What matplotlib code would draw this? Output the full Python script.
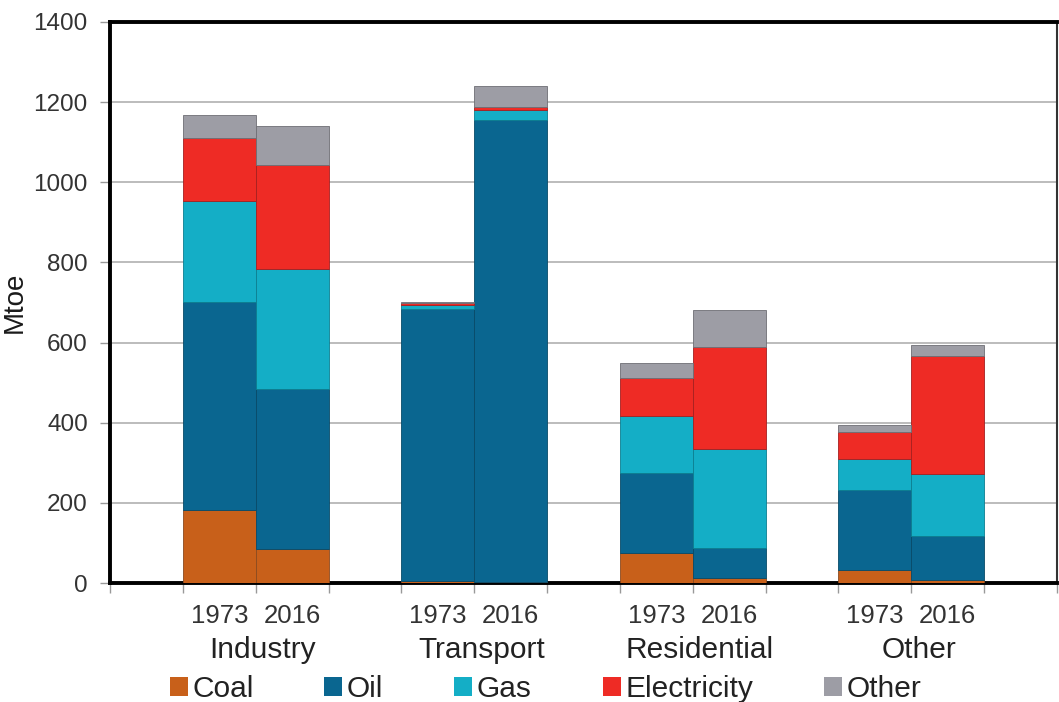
import matplotlib
matplotlib.use("Agg")
import matplotlib.pyplot as plt
import matplotlib.transforms as mtransforms
from matplotlib.patches import Patch
import numpy as np

plt.rcParams['font.family'] = ['Liberation Sans', 'DejaVu Sans']

sectors = ["Industry", "Transport", "Residential", "Other"]
years = ["1973", "2016"]
fuels = ["Coal", "Oil", "Gas", "Electricity", "Other"]
colors = ["#C8601A", "#0A6690", "#14AEC6", "#EE2B25", "#9D9DA5"]
edge_colors = ["#8A4A20", "#084A68", "#0C7E90", "#A42020", "#6E6E74"]

# values per bar: Industry 1973, Industry 2016, Transport 1973, Transport 2016,
# Residential 1973, Residential 2016, Other 1973, Other 2016
coal = [182, 85, 5, 2, 75, 12, 32, 7]
oil = [519, 399, 678, 1153, 200, 75, 200, 110]
gas = [252, 300, 12, 25, 142, 247, 77, 155]
electricity = [157, 259, 5, 8, 95, 255, 68, 295]
other = [58, 98, 2, 52, 37, 92, 17, 27]
series = [coal, oil, gas, electricity, other]

fig = plt.figure(figsize=(10.59, 7.02), dpi=100)
ax = fig.add_axes([110/1059, 1-583/702, (1057-110)/1059, (583-22)/702])

# bar slots: one empty slot between groups
pos = []
for g in range(len(sectors)):
    base = 1 + 3*g
    pos += [base + 0.5, base + 1.5]
pos = np.array(pos)

bottom = np.zeros(len(pos))
for vals, c, ec in zip(series, colors, edge_colors):
    v = np.array(vals, dtype=float)
    ax.bar(pos, v, width=1.0, bottom=bottom, color=c, edgecolor=ec, linewidth=0.6, zorder=3)
    bottom += v

ax.set_xlim(0, 13)
ax.set_ylim(0, 1400)
ax.set_yticks(np.arange(0, 1401, 200))
ax.set_yticklabels([str(v) for v in range(0, 1401, 200)], fontsize=17.5, color="#333333")
ax.yaxis.grid(True, color="#B0B0B0", linewidth=1.2, zorder=0)
ax.set_axisbelow(True)

ax.set_xticks(np.arange(0, 14))
ax.set_xticklabels([])
ax.set_xticks(pos, minor=True)
ax.set_xticklabels(years * len(sectors), minor=True, fontsize=18.5, color="#333333")
ax.tick_params(axis='x', which='major', length=7, color="#999999", width=1)
ax.tick_params(axis='x', which='minor', length=0, pad=15)
ax.tick_params(axis='y', length=7, color="#999999", width=1, pad=9)

for side in ["left", "bottom", "top"]:
    ax.spines[side].set_linewidth(2.8)
    ax.spines[side].set_color("black")
ax.spines["right"].set_linewidth(1.5)
ax.spines["right"].set_color("#333333")

ax.set_ylabel("Mtoe", fontsize=20, color="#1A1A1A", labelpad=4)

trans = mtransforms.blended_transform_factory(ax.transData, fig.transFigure)
for g, s in enumerate(sectors):
    ax.text(2 + 3*g + 0.1, 1 - 650/702, s, transform=trans, ha='center', va='center',
            fontsize=21.5, color="#222222")

handles = [Patch(facecolor=c, edgecolor='none') for c in colors]
fig.legend(handles, fuels, loc='center', bbox_to_anchor=(0.515, 1 - 689/702), ncol=5,
           frameon=False, fontsize=21.5, handlelength=0.6, handleheight=0.6,
           handletextpad=0.15, columnspacing=2.38, labelcolor="#222222",
           borderaxespad=0, borderpad=0)

fig.savefig("out.png", dpi=100)
